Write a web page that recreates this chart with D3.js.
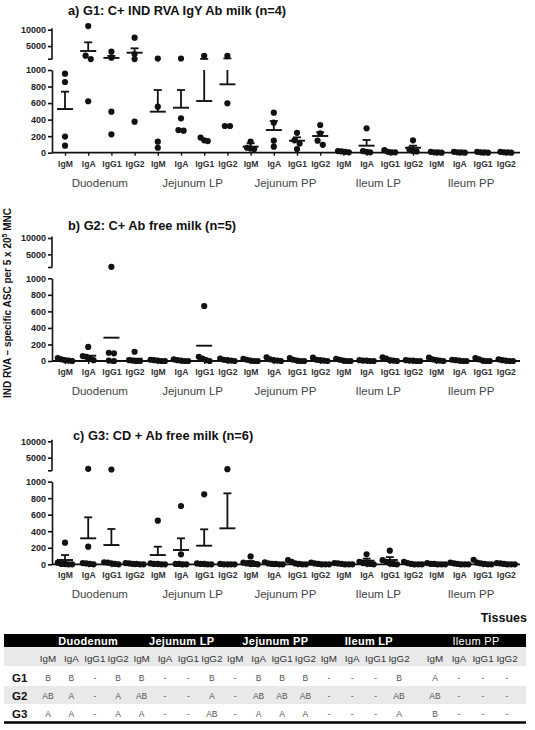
<!DOCTYPE html>
<html><head><meta charset="utf-8">
<script src="https://cdn.jsdelivr.net/npm/d3@7"></script>
<style>
body{margin:0;background:#fff}
svg{display:block}
text{font-family:"Liberation Sans",Arial,Helvetica,sans-serif}
</style>
</head><body>
<svg id="chart" width="535" height="730"></svg>
<script>
// ---------------- DATA ----------------
const tissues = ["Duodenum", "Jejunum LP", "Jejunum PP", "Ileum LP", "Ileum PP"];
const isotypes = ["IgM", "IgA", "IgG1", "IgG2"];
const panelTitles = [
  "a) G1: C+ IND RVA IgY Ab milk (n=4)",
  "b) G2: C+ Ab free milk (n=5)",
  "c) G3: CD + Ab free milk (n=6)"
];
const yTicksLower = [0, 200, 400, 600, 800, 1000];
const yTicksUpper = [5000, 10000];

// G1 (n=4): individual animals per tissue/isotype
const g1Points = [
  [955, 855, 195, 85], [11100, 2070, 1050, 622], [3290, 1460, 496, 222], [7560, 2590, 1050, 375],
  [1200, 556, 133, 60], [1220, 416, 274, 266], [2030, 183, 150, 140], [2060, 597, 323, 323],
  [135, 60, 50, 45], [484, 363, 145, 73], [240, 150, 110, 45], [335, 235, 145, 95],
  [20, 15, 10, 5], [295, 20, 10, 5], [30, 10, 5, 5], [150, 40, 20, 15],
  [10, 5, 5, 0], [10, 5, 5, 0], [10, 5, 5, 0], [10, 5, 5, 0]
];
const g1Mean = [528, 3500, 1400, 2980, 496, 544, 625, 827, 73, 274, 145, 202, 12, 85, 12, 60, 5, 5, 5, 5];
const g1Sem  = [210, 2650, 600, 1340, 262, 214, 470, 417, 41, 109, 41, 45, 4, 69, 5, 25, 2, 2, 2, 2];

// G2 (n=5)
const g2Points = [
  [35, 20, 10, 5, 0], [170, 60, 50, 30, 10], [1200, 100, 93, 5, 0], [112, 10, 5, 0, 0],
  [15, 10, 5, 0, 0], [20, 10, 5, 0, 0], [665, 50, 30, 10, 0], [30, 15, 10, 5, 0],
  [25, 15, 5, 0, 0], [45, 20, 10, 5, 0], [35, 15, 5, 0, 0], [40, 15, 10, 5, 0],
  [25, 15, 5, 0, 0], [10, 5, 5, 0, 0], [45, 30, 10, 5, 0], [10, 5, 5, 0, 0],
  [40, 20, 10, 5, 0], [15, 10, 5, 0, 0], [35, 20, 5, 0, 0], [20, 10, 5, 0, 0]
];
const g2Mean = [14, 64, 282, 28, 6, 7, 185, 12, 9, 16, 11, 14, 9, 4, 18, 4, 15, 6, 12, 7];
const g2Sem  = null; // no error bars shown for G2

// G3 (n=6)
const g3Points = [
  [261, 20, 5, 5, 0, 0], [1600, 213, 15, 10, 5, 0], [1400, 25, 20, 10, 5, 0], [15, 10, 5, 5, 0, 0],
  [527, 10, 5, 5, 0, 0], [705, 121, 5, 5, 0, 0], [846, 10, 5, 5, 0, 0], [1500, 5, 0, 0, 0, 0],
  [95, 20, 10, 5, 5, 0], [25, 10, 5, 5, 0, 0], [50, 30, 10, 5, 0, 0], [20, 10, 5, 0, 0, 0],
  [15, 10, 5, 0, 0, 0], [121, 30, 15, 10, 5, 0], [165, 50, 30, 10, 5, 0], [30, 15, 5, 0, 0, 0],
  [15, 5, 5, 0, 0, 0], [20, 10, 5, 0, 0, 0], [55, 20, 10, 5, 0, 0], [15, 10, 5, 0, 0, 0]
];
const g3Mean = [52, 314, 233, 6, 112, 173, 225, 435, 25, 8, 16, 6, 5, 44, 52, 8, 4, 6, 15, 5];
const g3Sem  = [60, 254, 194, 3, 101, 141, 198, 423, 15, 4, 8, 3, 2, 24, 35, 5, 2, 3, 8, 2];

// Statistics table
const tableGroups = ["G1", "G2", "G3"];
const tableG1 = ["B","B","-","B", "B","-","-","B", "-","B","B","B", "-","-","-","B", "A","-","-","-"];
const tableG2 = ["AB","A","-","A", "AB","-","-","A", "-","AB","AB","AB", "-","-","-","AB", "AB","-","-","-"];
const tableG3 = ["A","A","-","A", "A","-","-","AB", "-","A","A","A", "-","-","-","A", "B","-","-","-"];

// ---------------- DRAW ----------------
const svg = d3.select("#chart");
const nCat = tissues.length * isotypes.length;
const x = d3.scalePoint().domain(d3.range(nCat)).range([65, 505.8]);
const axisX0 = 52, axisX1 = 520;
const fmt = d3.format("d");

function panel(Z, title, titleX, titleY, pts, means, sems) {
  const lo = d3.scaleLinear().domain([0, 1000]).range([Z, Z - 82.7]);
  const up = d3.scaleLinear().domain([1000, 10000]).range([Z - 93.5, Z - 123]);
  const yv = v => v <= 1000 ? lo(v) : up(v);
  const g = svg.append("g");

  // title
  g.append("text").attr("x", titleX).attr("y", titleY)
    .attr("font-size", 12.8).attr("font-weight", "bold").attr("fill", "#111").text(title);

  // y axis, lower segment
  const gL = g.append("g").attr("transform", `translate(${axisX0},0)`)
    .call(d3.axisLeft(lo).tickValues(yTicksLower).tickFormat(fmt).tickSize(4).tickSizeOuter(0).tickPadding(2));
  // y axis, upper segment
  const gU = g.append("g").attr("transform", `translate(${axisX0},0)`)
    .call(d3.axisLeft(up).tickValues(yTicksUpper).tickFormat(fmt).tickSize(4).tickSizeOuter(0).tickPadding(2));
  gU.select(".domain").attr("d", `M0,${Z - 124.5}V${Z - 93.5}`);
  gU.append("line").attr("x1", -4).attr("x2", 0).attr("y1", Z - 93.5).attr("y2", Z - 93.5);
  [gL, gU].forEach(a => {
    a.selectAll("path, line").attr("stroke", "#111").attr("stroke-width", 1.6);
    a.selectAll("text").attr("font-size", 9).attr("font-weight", "bold").attr("fill", "#222")
      .attr("font-family", "'Liberation Sans', Arial, sans-serif");
  });

  // x axis
  const gx = g.append("g").attr("transform", `translate(0,${Z})`)
    .call(d3.axisBottom(x).tickFormat(i => isotypes[i % isotypes.length]).tickSize(3).tickPadding(5));
  gx.select(".domain").remove();
  gx.append("line").attr("x1", axisX0).attr("x2", axisX1).attr("stroke", "#111").attr("stroke-width", 1.8);
  gx.selectAll(".tick line").attr("stroke", "#111").attr("stroke-width", 1.4);
  gx.selectAll("text").attr("font-size", 8.6).attr("font-weight", "bold").attr("fill", "#333")
    .attr("font-family", "'Liberation Sans', Arial, sans-serif");

  // tissue group labels
  g.selectAll(".grp").data(tissues).join("text")
    .attr("x", (d, k) => (x(k * 4) + x(k * 4 + 3)) / 2)
    .attr("y", Z + 34).attr("text-anchor", "middle")
    .attr("font-size", 11.5).attr("fill", "#444").text(d => d);

  // error bars (mean + SEM, upward)
  if (sems) {
    means.forEach((m, i) => {
      const top = m + sems[i];
      const cx = x(i);
      const segs = [];
      if (m <= 1000 && top > 1000) { segs.push([lo(m), lo(1000)]); segs.push([up(1000), up(top)]); }
      else segs.push([yv(m), yv(top)]);
      segs.forEach(s => g.append("line").attr("x1", cx).attr("x2", cx).attr("y1", s[0]).attr("y2", s[1])
        .attr("stroke", "#111").attr("stroke-width", 1.8));
      g.append("line").attr("x1", cx - 4).attr("x2", cx + 4).attr("y1", yv(top)).attr("y2", yv(top))
        .attr("stroke", "#111").attr("stroke-width", 1.8);
    });
  }
  // mean lines
  g.selectAll(".mean").data(means).join("line")
    .attr("x1", (d, i) => x(i) - 8).attr("x2", (d, i) => x(i) + 8)
    .attr("y1", d => yv(d)).attr("y2", d => yv(d))
    .attr("stroke", "#111").attr("stroke-width", 1.9);

  // points, swarm-style spreading of overlapping dots
  pts.forEach((vals, i) => {
    const items = vals.map(v => ({ v, y: yv(v) })).sort((a, b) => a.y - b.y);
    const rows = [];
    items.forEach(it => {
      const r = rows[rows.length - 1];
      if (r && it.y - r[0].y < 5) r.push(it); else rows.push([it]);
    });
    rows.forEach(r => r.forEach((it, k) => {
      const step = r.length > 2 ? 3.6 : 5.2;
      it.dx = (k - (r.length - 1) / 2) * step;
    }));
    g.selectAll(null).data(items).join("circle")
      .attr("cx", d => x(i) + d.dx).attr("cy", d => d.y).attr("r", 3.1).attr("fill", "#111");
  });
}

panel(152.7, panelTitles[0], 68, 15, g1Points, g1Mean, g1Sem);
panel(361, panelTitles[1], 68, 230, g2Points, g2Mean, g2Sem);
panel(564.3, panelTitles[2], 73, 440, g3Points, g3Mean, g3Sem);

// y axis title
const yl = svg.append("text").attr("transform", "translate(11,303) rotate(-90)")
  .attr("text-anchor", "middle").attr("font-size", 10).attr("font-weight", "bold").attr("fill", "#111");
yl.append("tspan").text("IND RVA \u2013 specific ASC per 5 x 20");
yl.append("tspan").attr("font-size", 7).attr("dy", -4).text("5");
yl.append("tspan").attr("dy", 4).text(" MNC");

// "Tissues"
svg.append("text").attr("x", 527).attr("y", 622).attr("text-anchor", "end")
  .attr("font-size", 12.5).attr("font-weight", "bold").attr("fill", "#111").text("Tissues");

// ---------------- TABLE ----------------
const colX = i => i < 16 ? 48 + i * 23.4 : 435 + (i - 16) * 24;
const tX0 = 4, tX1 = 526;
const t = svg.append("g");
t.append("rect").attr("x", tX0).attr("y", 634).attr("width", tX1 - tX0).attr("height", 13).attr("fill", "#000");
t.selectAll(".th").data(tissues).join("text")
  .attr("x", (d, k) => (colX(k * 4) + colX(k * 4 + 3)) / 2 + 5)
  .attr("y", 644.5).attr("text-anchor", "middle").attr("font-size", 11)
  .attr("font-weight", (d, k) => k === tissues.length - 1 ? "normal" : "bold")
  .attr("letter-spacing", 0.3).attr("fill", "#fff").text(d => d);
// isotype header row
t.append("rect").attr("x", tX0).attr("y", 647).attr("width", tX1 - tX0).attr("height", 19).attr("fill", "#e9e9e9");
t.selectAll(".iso").data(d3.range(nCat)).join("text")
  .attr("x", i => colX(i)).attr("y", 662).attr("text-anchor", "middle")
  .attr("font-size", 9.8).attr("fill", "#333").text(i => isotypes[i % 4]);
// group rows
const rowsData = [tableG1, tableG2, tableG3];
const rowTop = [666, 686, 704], rowH = [20, 18, 18];
rowsData.forEach((row, r) => {
  if (r === 1) t.append("rect").attr("x", tX0).attr("y", rowTop[r]).attr("width", tX1 - tX0)
    .attr("height", rowH[r]).attr("fill", "#e9e9e9");
  const base = rowTop[r] + rowH[r] - 5;
  t.append("text").attr("x", 12).attr("y", base + 1).attr("font-size", 11.5).attr("font-weight", "bold")
    .attr("fill", "#111").text(tableGroups[r]);
  t.selectAll(null).data(row).join("text")
    .attr("x", (d, i) => colX(i)).attr("y", base).attr("text-anchor", "middle")
    .attr("font-size", 8.5).attr("fill", "#555").text(d => d);
});
t.append("line").attr("x1", tX0).attr("x2", tX1).attr("y1", 722.5).attr("y2", 722.5)
  .attr("stroke", "#000").attr("stroke-width", 2.5);
</script>
</body></html>
